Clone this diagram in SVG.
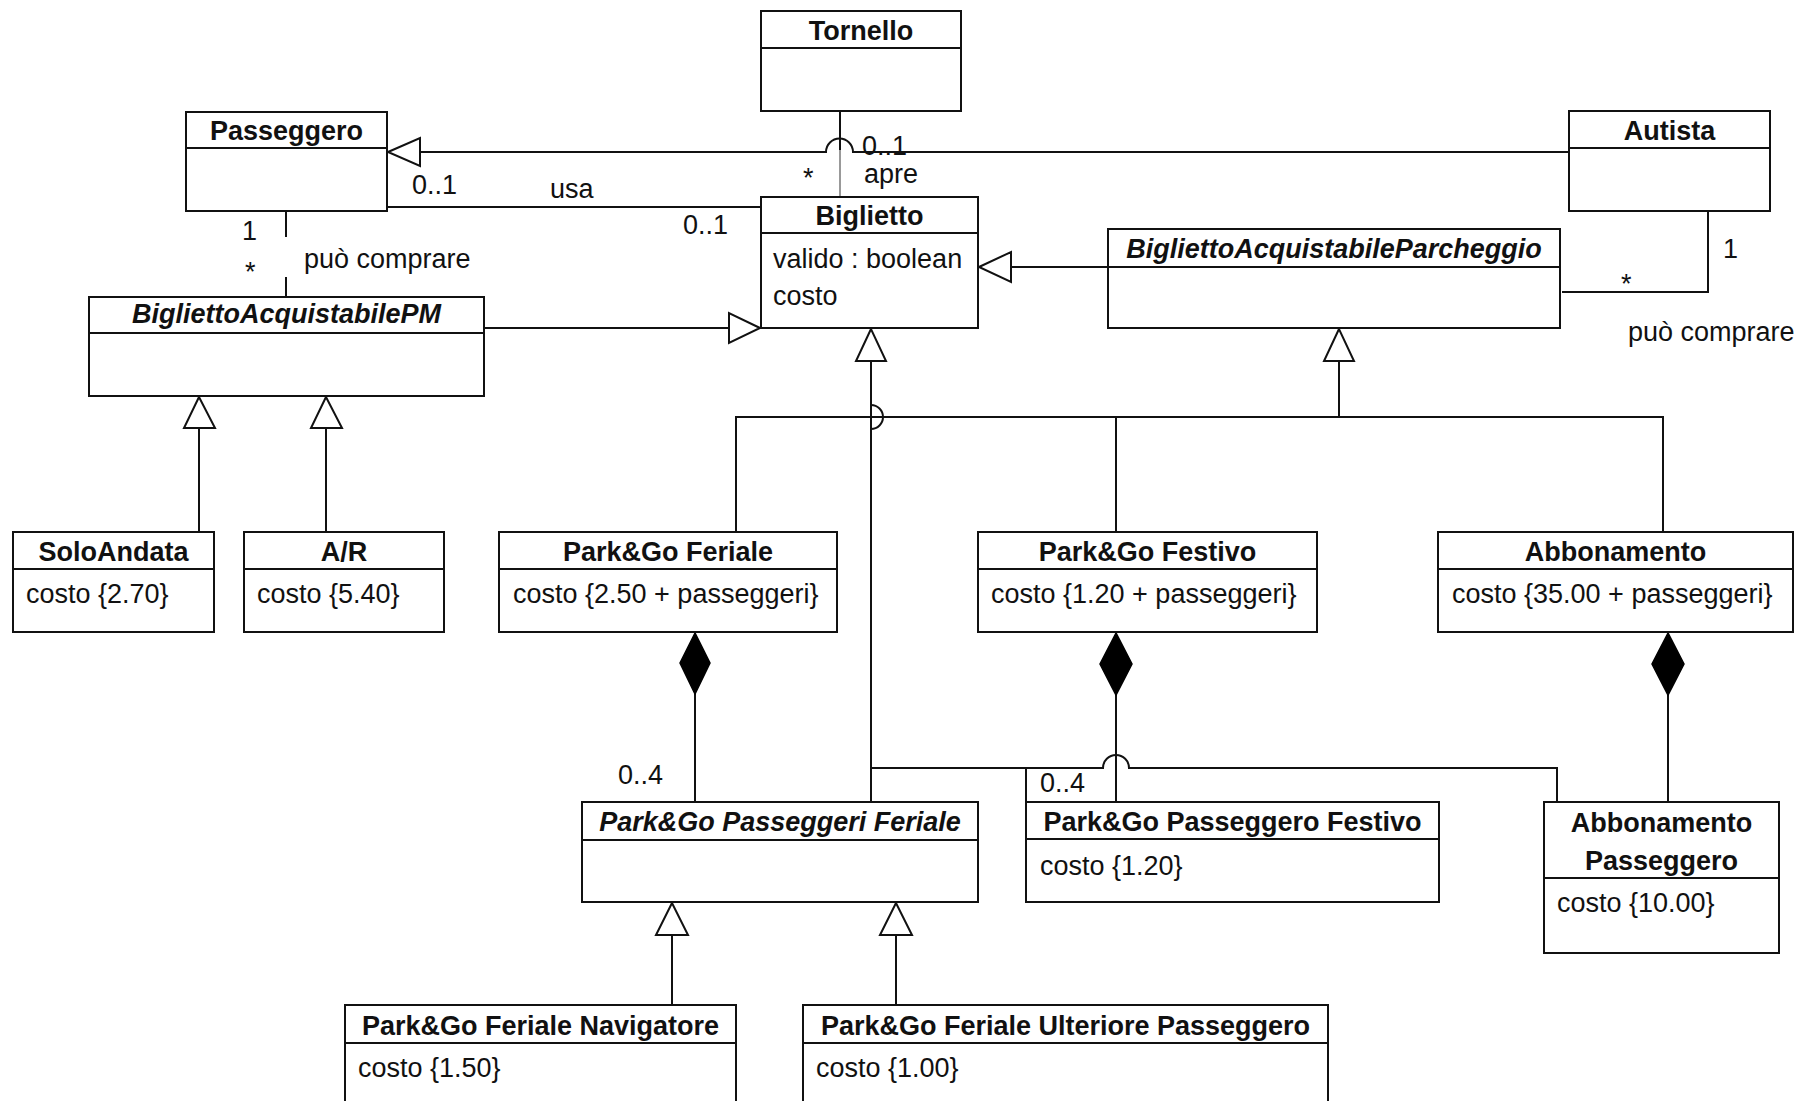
<svg xmlns="http://www.w3.org/2000/svg" width="1813" height="1101" viewBox="0 0 1813 1101">
<style>
  .box { fill: #ffffff; stroke: #111; stroke-width: 2; }
  .sep { stroke: #111; stroke-width: 2; }
  .t { font-family: "Liberation Sans", Arial, sans-serif; font-size: 27px; fill: #111; }
  .title { font-weight: bold; text-anchor: middle; }
  .abs { font-style: italic; }
  .ln { fill: none; stroke: #111; stroke-width: 2; }
  .thin { fill: none; stroke: #555; stroke-width: 1.2; }
  .tri { fill: #ffffff; stroke: #111; stroke-width: 2; }
  .dia { fill: #000; stroke: #000; stroke-width: 1.5; }
</style>
<rect width="1813" height="1101" fill="#ffffff"/>

<g id="connectors">
  <!-- Autista -> Passeggero generalization with hop -->
  <path class="ln" d="M1569,152 H853 A13.5,13.5 0 0 0 826,152 H420"/>
  <polygon class="tri" points="388,152 420,138 420,166"/>
  <!-- Tornello - Biglietto (apre) -->
  <line class="ln" x1="840" y1="111" x2="840" y2="150"/>
  <line class="thin" x1="840" y1="150" x2="840" y2="197"/>
  <!-- usa -->
  <line class="ln" x1="387" y1="207" x2="761" y2="207"/>
  <!-- Passeggero - BigliettoAcquistabilePM -->
  <line class="ln" x1="286" y1="211" x2="286" y2="237"/>
  <line class="ln" x1="286" y1="277" x2="286" y2="297"/>
  <!-- BAPM -> Biglietto -->
  <line class="ln" x1="484" y1="328" x2="729" y2="328"/>
  <polygon class="tri" points="760,328 729,313 729,343"/>
  <!-- BAP -> Biglietto -->
  <line class="ln" x1="1108" y1="267" x2="1011" y2="267"/>
  <polygon class="tri" points="979,267 1011,252 1011,282"/>
  <!-- Autista - BAP (può comprare) -->
  <polyline class="ln" points="1708,211 1708,292 1562,292"/>
  <!-- BAPM children -->
  <line class="ln" x1="199" y1="428" x2="199" y2="532"/>
  <polygon class="tri" points="199,397 184,428 215,428"/>
  <line class="ln" x1="326" y1="428" x2="326" y2="532"/>
  <polygon class="tri" points="326,397 311,428 342,428"/>
  <!-- BAP children tree -->
  <line class="ln" x1="1339" y1="361" x2="1339" y2="417"/>
  <polygon class="tri" points="1339,329 1324,361 1354,361"/>
  <polyline class="ln" points="736,532 736,417 1663,417 1663,532"/>
  <line class="ln" x1="1116" y1="417" x2="1116" y2="532"/>
  <!-- Biglietto children tree -->
  <line class="ln" x1="871" y1="361" x2="871" y2="802"/>
  <path class="ln" d="M871,429 A12,12 0 0 0 871,405"/>
  <polygon class="tri" points="871,329 856,361 886,361"/>
  <path class="ln" d="M871,768 H1103 A13,13 0 0 1 1129,768 H1557 V802"/>
  <line class="ln" x1="1026" y1="768" x2="1026" y2="802"/>
  <!-- compositions -->
  <line class="ln" x1="695" y1="694" x2="695" y2="802"/>
  <polygon class="dia" points="695,633 680,663 695,694 710,663"/>
  <line class="ln" x1="1116" y1="694" x2="1116" y2="802"/>
  <polygon class="dia" points="1116,633 1100,664 1116,695 1132,664"/>
  <line class="ln" x1="1668" y1="694" x2="1668" y2="802"/>
  <polygon class="dia" points="1668,633 1652,664 1668,695 1684,664"/>
  <!-- PPF children -->
  <line class="ln" x1="672" y1="935" x2="672" y2="1005"/>
  <polygon class="tri" points="672,903 656,935 688,935"/>
  <line class="ln" x1="896" y1="935" x2="896" y2="1005"/>
  <polygon class="tri" points="896,903 880,935 912,935"/>
  <!-- labels -->
  <text class="t" x="862" y="155">0..1</text>
  <text class="t" x="803" y="187">*</text>
  <text class="t" x="864" y="183">apre</text>
  <text class="t" x="412" y="194">0..1</text>
  <text class="t" x="550" y="198">usa</text>
  <text class="t" x="683" y="234">0..1</text>
  <text class="t" x="242" y="240">1</text>
  <text class="t" x="245" y="281">*</text>
  <text class="t" x="304" y="268">può comprare</text>
  <text class="t" x="1723" y="258">1</text>
  <text class="t" x="1621" y="293">*</text>
  <text class="t" x="1628" y="341">può comprare</text>
  <text class="t" x="618" y="784">0..4</text>
  <text class="t" x="1040" y="792">0..4</text>
</g>

<g id="Tornello">
  <rect class="box" x="761" y="11" width="200" height="100"/>
  <line class="sep" x1="761" y1="48" x2="961" y2="48"/>
  <text class="t title" x="861" y="40">Tornello</text>
</g>
<g id="Passeggero">
  <rect class="box" x="186" y="112" width="201" height="99"/>
  <line class="sep" x1="186" y1="148" x2="387" y2="148"/>
  <text class="t title" x="286.5" y="140">Passeggero</text>
</g>
<g id="Autista">
  <rect class="box" x="1569" y="111" width="201" height="100"/>
  <line class="sep" x1="1569" y1="148" x2="1770" y2="148"/>
  <text class="t title" x="1669.5" y="140">Autista</text>
</g>
<g id="Biglietto">
  <rect class="box" x="761" y="197" width="217" height="131"/>
  <line class="sep" x1="761" y1="233" x2="978" y2="233"/>
  <text class="t title" x="869.5" y="225">Biglietto</text>
  <text class="t" x="773" y="268">valido : boolean</text>
  <text class="t" x="773" y="305">costo</text>
</g>
<g id="BigliettoAcquistabileParcheggio">
  <rect class="box" x="1108" y="229" width="452" height="99"/>
  <line class="sep" x1="1108" y1="267" x2="1560" y2="267"/>
  <text class="t title abs" x="1334" y="258">BigliettoAcquistabileParcheggio</text>
</g>
<g id="BigliettoAcquistabilePM">
  <rect class="box" x="89" y="297" width="395" height="99"/>
  <line class="sep" x1="89" y1="333" x2="484" y2="333"/>
  <text class="t title abs" x="286.5" y="323">BigliettoAcquistabilePM</text>
</g>
<g id="SoloAndata">
  <rect class="box" x="13" y="532" width="201" height="100"/>
  <line class="sep" x1="13" y1="569" x2="214" y2="569"/>
  <text class="t title" x="113.5" y="561">SoloAndata</text>
  <text class="t" x="26" y="603">costo {2.70}</text>
</g>
<g id="AR">
  <rect class="box" x="244" y="532" width="200" height="100"/>
  <line class="sep" x1="244" y1="569" x2="444" y2="569"/>
  <text class="t title" x="344" y="561">A/R</text>
  <text class="t" x="257" y="603">costo {5.40}</text>
</g>
<g id="ParkGoFeriale">
  <rect class="box" x="499" y="532" width="338" height="100"/>
  <line class="sep" x1="499" y1="569" x2="837" y2="569"/>
  <text class="t title" x="668" y="561">Park&amp;Go Feriale</text>
  <text class="t" x="513" y="603">costo {2.50 + passeggeri}</text>
</g>
<g id="ParkGoFestivo">
  <rect class="box" x="978" y="532" width="339" height="100"/>
  <line class="sep" x1="978" y1="569" x2="1317" y2="569"/>
  <text class="t title" x="1147.5" y="561">Park&amp;Go Festivo</text>
  <text class="t" x="991" y="603">costo {1.20 + passeggeri}</text>
</g>
<g id="Abbonamento">
  <rect class="box" x="1438" y="532" width="355" height="100"/>
  <line class="sep" x1="1438" y1="569" x2="1793" y2="569"/>
  <text class="t title" x="1615.5" y="561">Abbonamento</text>
  <text class="t" x="1452" y="603">costo {35.00 + passeggeri}</text>
</g>
<g id="ParkGoPasseggeriFeriale">
  <rect class="box" x="582" y="802" width="396" height="100"/>
  <line class="sep" x1="582" y1="840" x2="978" y2="840"/>
  <text class="t title abs" x="780" y="831">Park&amp;Go Passeggeri Feriale</text>
</g>
<g id="ParkGoPasseggeroFestivo">
  <rect class="box" x="1026" y="802" width="413" height="100"/>
  <line class="sep" x1="1026" y1="839" x2="1439" y2="839"/>
  <text class="t title" x="1232.5" y="831">Park&amp;Go Passeggero Festivo</text>
  <text class="t" x="1040" y="875">costo {1.20}</text>
</g>
<g id="AbbonamentoPasseggero">
  <rect class="box" x="1544" y="802" width="235" height="151"/>
  <line class="sep" x1="1544" y1="878" x2="1779" y2="878"/>
  <text class="t title" x="1661.5" y="832">Abbonamento</text>
  <text class="t title" x="1661.5" y="870">Passeggero</text>
  <text class="t" x="1557" y="912">costo {10.00}</text>
</g>
<g id="ParkGoFerialeNavigatore">
  <rect class="box" x="345" y="1005" width="391" height="110"/>
  <line class="sep" x1="345" y1="1043" x2="736" y2="1043"/>
  <text class="t title" x="540.5" y="1035">Park&amp;Go Feriale Navigatore</text>
  <text class="t" x="358" y="1077">costo {1.50}</text>
</g>
<g id="ParkGoFerialeUlteriorePasseggero">
  <rect class="box" x="803" y="1005" width="525" height="110"/>
  <line class="sep" x1="803" y1="1043" x2="1328" y2="1043"/>
  <text class="t title" x="1065.5" y="1035">Park&amp;Go Feriale Ulteriore Passeggero</text>
  <text class="t" x="816" y="1077">costo {1.00}</text>
</g>
</svg>
